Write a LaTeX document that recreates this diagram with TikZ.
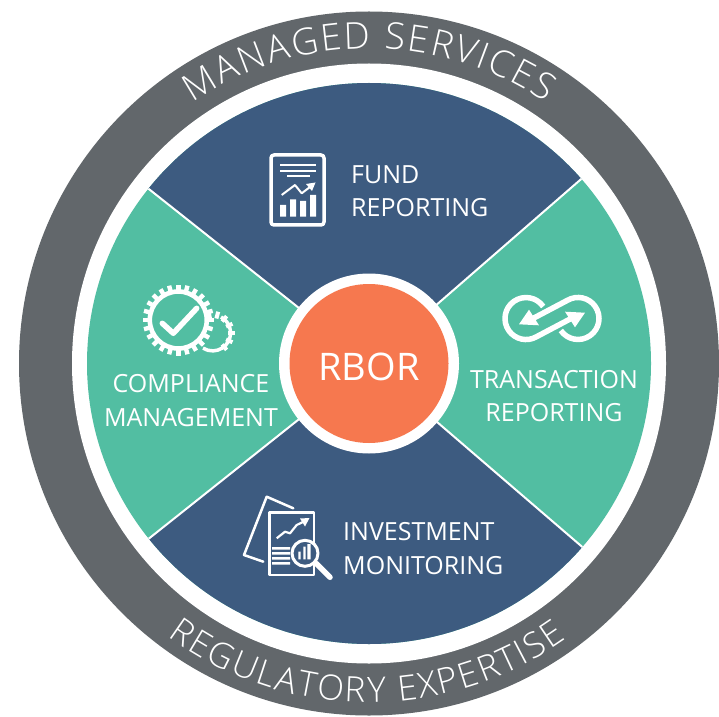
\documentclass[tikz,border=0pt]{standalone}
\usepackage{fontspec}
\setmainfont{Open Sans}
\newfontfamily\lightface{Open Sans Light}
\usetikzlibrary{decorations.text}
\definecolor{ringgrey}{HTML}{62676B}
\definecolor{navy}{HTML}{3D5B80}
\definecolor{teal}{HTML}{52BEA2}
\definecolor{coral}{HTML}{F6784F}
\tikzset{
  lbl/.style={text=white,font=\fontsize{25}{33.3}\selectfont,align=center,inner sep=0pt},
  wline/.style={draw=white,line width=#1,line join=round},
  wfill/.style={fill=white,draw=none}
}
\begin{document}
\begin{tikzpicture}[x=1pt,y=1pt]
\useasboundingbox (0,0) rectangle (719,716);
\fill[white] (0,0) rectangle (719,716);
\begin{scope}[shift={(369pt,352.5pt)}]
\fill[ringgrey] (0,0) ellipse[x radius=350,y radius=352];
\fill[white] (0,0) ellipse[x radius=297,y radius=300];
\begin{scope}
\clip (0,0) ellipse[x radius=282,y radius=280.5];
\fill[teal] (-300,-300) rectangle (300,300);
\fill[navy] (0,0) -- (41:420) -- (91:420) -- (141.6:420) -- cycle;
\fill[navy] (0,0) -- (-141.5:420) -- (-91:420) -- (-40.7:420) -- cycle;
\draw[white,line width=2pt] (41:420) -- (0,0) -- (141.6:420) (-141.5:420) -- (0,0) -- (-40.7:420);
\end{scope}
\fill[white] (0,0) circle[radius=90];
\node[circle,fill=coral,minimum size=159pt,inner sep=0pt,text=white,font=\fontsize{38}{40}\selectfont] (hub) at (0,0) {\raisebox{-17pt}[0pt][0pt]{RBOR}};
\path[decorate,decoration={text along path,text align={fit to path},
  text={|\fontsize{37}{40}\lightface\color{white}|MANAGED SERVICES}}]
  (124:315) arc[start angle=124,end angle=56,radius=315];
\path[decorate,decoration={text along path,text align={fit to path},
  text={|\fontsize{35}{40}\lightface\color{white}|REGULATORY EXPERTISE}}]
  (-126.4:339) arc[start angle=-126.4,end angle=-54.4,radius=339];
\end{scope}
\begin{scope}[x=1pt,y=-1pt,shift={(0pt,716pt)}]
\node[lbl,align=left,anchor=west] (fund) at (351,191.5) {FUND\\REPORTING};
\node[lbl] (comp) at (191,400.5) {COMPLIANCE\\MANAGEMENT};
\node[lbl] (trans) at (554,396) {TRANSACTION\\REPORTING};
\node[lbl,align=left,anchor=west] (inv) at (343,548.5) {INVESTMENT\\MONITORING};
% fund icon
\draw[wline=3.5pt,rounded corners=3pt] (271,155) rectangle (324,225);
\draw[wline=2pt] (280,165)--(316,165) (280,170.7)--(316,170.7) (287,176)--(310,176);
\draw[wline=2pt] (281.7,195)--(295,185)--(301.7,193.3)--(312,185.5);
\fill[white] (315.5,182.5)--(306,184)--(312,191)--cycle;
\fill[white] (280,205) rectangle (286,216.7) (290,199.3) rectangle (296,216.7) (300,201) rectangle (306,216.7) (310,195) rectangle (316,216.7);
% compliance icon
\foreach \a in {0,15,...,345}{\fill[white,shift={(178.3,320)},rotate=\a] (-2.2,28) rectangle (2.2,35.5);}
\draw[wline=4.6pt] (178.3,320) circle[radius=28.5pt];
\draw[wline=5.5pt,line cap=round] (162.3,323.3)--(173.3,333.3)--(196.7,308.3);
\draw[wline=3.5pt] (221,317) arc[start angle=62,end angle=-122,radius=18pt];
\foreach \a in {-50,-25,0,25,50,75,100}{\fill[white,shift={(212.5,333)},rotate=\a] (15,-2) rectangle (22,2);}
% transaction icon
\draw[wline=5.5pt] (543.2,306.5) arc[start angle=35,end angle=300,radius=21pt] -- (572,318);
\fill[white] (585,312.7)--(565,311.7)--(575,327.3)--cycle;
\draw[wline=5.5pt] (560.8,330.5) arc[start angle=215,end angle=480,radius=21pt] -- (532,319);
\fill[white] (519,324.3)--(539,325.3)--(529,309.7)--cycle;
% investment icon
\draw[wline=2.5pt,line cap=round] (293.3,508.3)--(266.7,496.7)--(244,555)--(263.3,561.7);
\draw[wline=2.6pt] (269.5,512.5) rectangle (314,575);
\draw[wline=2.2pt] (276.7,538.3)--(285,531.7)--(290,533.3)--(296.7,525)--(305,521);
\fill[white] (309.5,518)--(300,518.5)--(305,526.5)--cycle;
\fill[white] (272,547) rectangle (290,549.5) (272,552) rectangle (290,554.5) (272,557) rectangle (290,559.5) (272,562) rectangle (290,564.5);
\draw[wline=3pt,fill=navy] (305,553.3) circle[radius=13pt];
\fill[white] (298.3,551.7) rectangle (300.7,559.3) (303.3,546.7) rectangle (305.7,559.3) (307.3,544) rectangle (310.7,559.3);
\draw[wline=5.5pt,line cap=round] (316,563.3)--(330,577.3);
\end{scope}
\end{tikzpicture}
\end{document}
